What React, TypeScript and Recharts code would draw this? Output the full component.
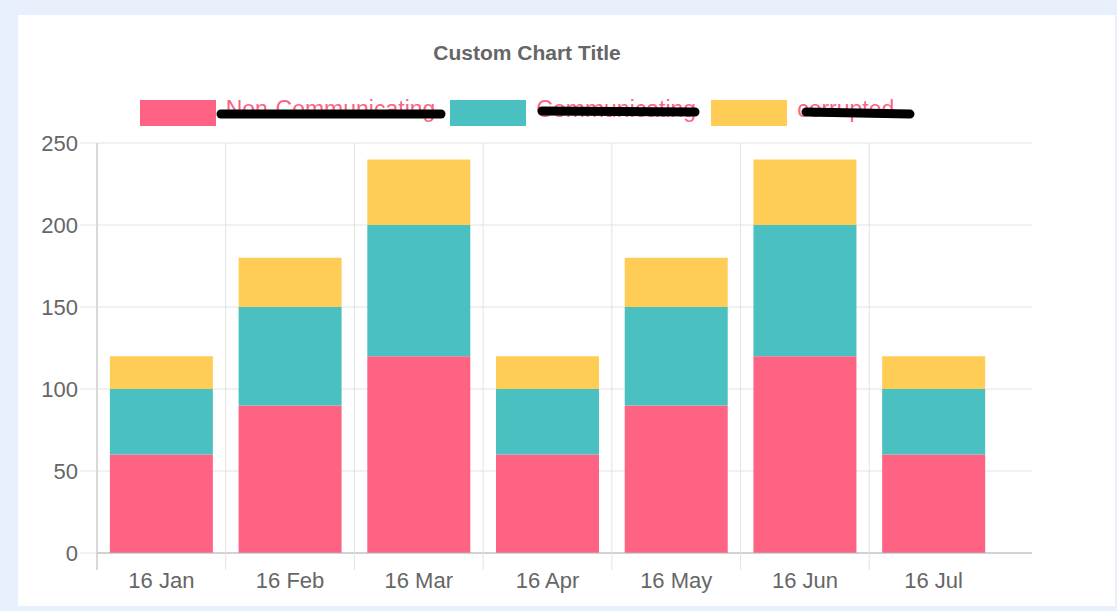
import { Bar, BarChart, CartesianGrid, Legend, XAxis, YAxis } from "recharts";

// categories + stacked series
const months = ["16 Jan", "16 Feb", "16 Mar", "16 Apr", "16 May", "16 Jun", "16 Jul"];
const nonCommunicating = [60, 90, 120, 60, 90, 120, 60];
const communicating = [40, 60, 80, 40, 60, 80, 40];
const corrupted = [20, 30, 40, 20, 30, 40, 20];
const yTicks = [0, 50, 100, 150, 200, 250];

const series = [
  { key: "nonCommunicating", name: "Non-Communicating", color: "#ff6384" },
  { key: "communicating", name: "Communicating", color: "#4bc0c0" },
  { key: "corrupted", name: "corrupted", color: "#ffcd56" },
];

// black marker scribbles over each legend label, relative to the item
const scribbles = [
  { x1: 81, y1: 14, x2: 301, y2: 14 },
  { x1: 92, y1: 11, x2: 245, y2: 12 },
  { x1: 95, y1: 12, x2: 199, y2: 14 },
];

const data = months.map((m, i) => ({
  month: m,
  nonCommunicating: nonCommunicating[i],
  communicating: communicating[i],
  corrupted: corrupted[i],
}));

const W = 1097;
const H = 591;
const PLOT_TOP = 128;
const AXIS_Y = 538;
const FONT = "'Liberation Sans', Arial, Helvetica, sans-serif";

function MonthTick(props: any) {
  const { x, payload, index } = props;
  const edge = x - (payload.offset ?? 0);
  const first = index === 0;
  return (
    <g>
      <line
        x1={edge}
        x2={edge}
        y1={first ? AXIS_Y : PLOT_TOP}
        y2={AXIS_Y + 17}
        stroke={first ? "#b3b3b3" : "#e3e3e3"}
        strokeWidth={1}
      />
      <text x={x} y={AXIS_Y + 35} textAnchor="middle" fill="#666" fontSize={22} fontFamily={FONT}>
        {payload.value}
      </text>
    </g>
  );
}

function renderLegend() {
  return (
    <div style={{ display: "flex", justifyContent: "center", gap: 15, fontFamily: FONT }}>
      {series.map((s, i) => {
        const sc = scribbles[i];
        return (
          <div key={s.key} style={{ position: "relative", display: "flex", alignItems: "flex-start", height: 26 }}>
            <div style={{ width: 76, height: 26, background: s.color, boxSizing: "border-box" }} />
            <span style={{ marginLeft: 10, marginTop: -2, fontSize: 23, lineHeight: "23px", color: "#ff6384", whiteSpace: "nowrap" }}>
              {s.name}
            </span>
            <svg
              width={340}
              height={30}
              style={{ position: "absolute", left: 0, top: 0, overflow: "visible", pointerEvents: "none" }}
            >
              <line x1={sc.x1} y1={sc.y1} x2={sc.x2} y2={sc.y2} stroke="#000" strokeWidth={9} strokeLinecap="round" />
            </svg>
          </div>
        );
      })}
    </div>
  );
}

export default function App() {
  return (
    <div
      style={{
        position: "absolute",
        left: 0,
        top: 0,
        width: 1117,
        height: 611,
        background: "#e8effd",
        fontFamily: FONT,
      }}
    >
      <div style={{ position: "absolute", left: 18, top: 15, width: W, height: H, background: "#fff" }}>
        <div
          style={{
            position: "absolute",
            left: 0,
            top: 27,
            width: 1018,
            textAlign: "center",
            fontSize: 21,
            lineHeight: "21px",
            fontWeight: "bold",
            color: "#666",
          }}
        >
          Custom Chart Title
        </div>
        <BarChart
          width={W}
          height={H}
          data={data}
          barCategoryGap="10%"
          margin={{ top: PLOT_TOP, right: 83, bottom: 13, left: 19 }}
          style={{ fontFamily: FONT }}
        >
          <CartesianGrid vertical={false} stroke="#e3e3e3" />
          <XAxis
            dataKey="month"
            height={40}
            padding={{ left: 0, right: 34 }}
            axisLine={{ stroke: "#b3b3b3" }}
            tickLine={false}
            tick={<MonthTick />}
            interval={0}
          />
          <YAxis
            width={60}
            domain={[0, 250]}
            ticks={yTicks}
            tickSize={17}
            tickMargin={2}
            axisLine={{ stroke: "#b3b3b3" }}
            tickLine={{ stroke: "#e3e3e3" }}
            tick={{ fill: "#666", fontSize: 22, fontFamily: FONT }}
          />
          <Legend
            layout="horizontal"
            verticalAlign="middle"
            align="center"
            content={renderLegend}
            wrapperStyle={{ top: 85, left: 0, width: 998 }}
          />
          {series.map((s) => (
            <Bar key={s.key} dataKey={s.key} name={s.name} stackId="a" fill={s.color} isAnimationActive={false} />
          ))}
        </BarChart>
      </div>
    </div>
  );
}
